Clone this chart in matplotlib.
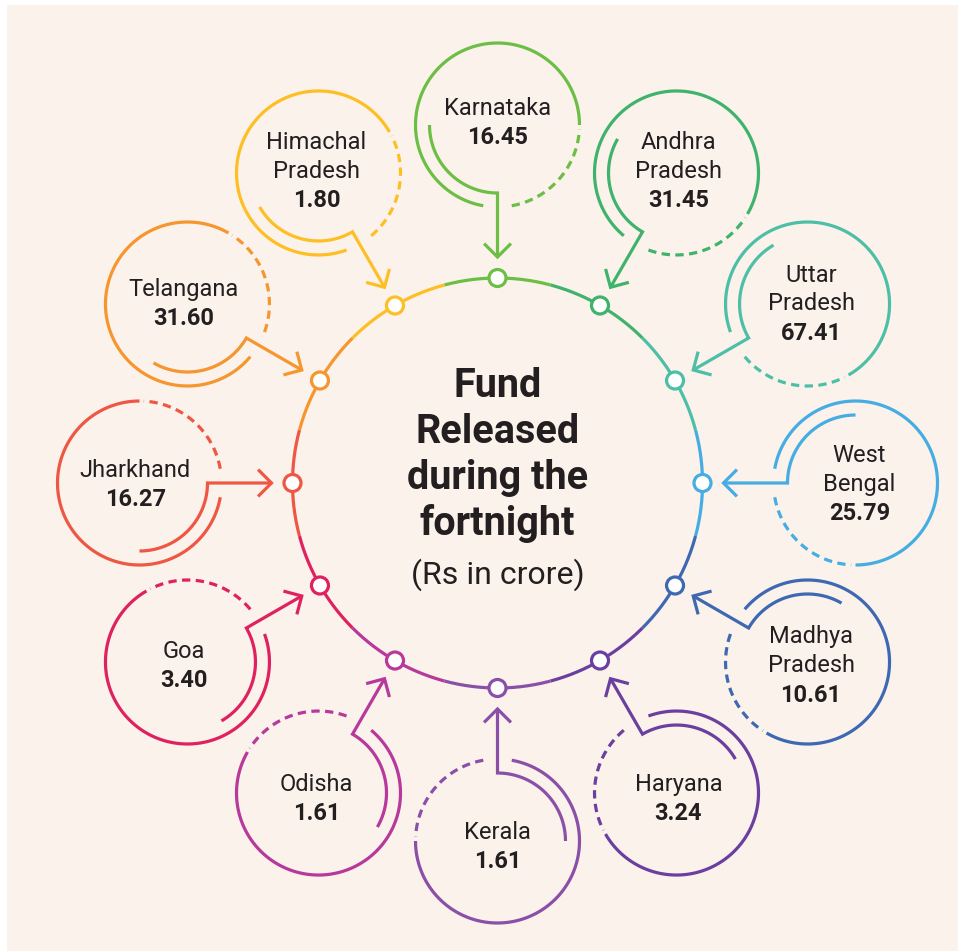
import numpy as np
import matplotlib.pyplot as plt
from matplotlib.patches import Circle, Rectangle

# data, clockwise from the top of the ring
states = ['Karnataka', 'Andhra\nPradesh', 'Uttar\nPradesh', 'West\nBengal',
          'Madhya\nPradesh', 'Haryana', 'Kerala', 'Odisha', 'Goa',
          'Jharkhand', 'Telangana', 'Himachal\nPradesh']
funds = [16.45, 31.45, 67.41, 25.79, 10.61, 3.24, 1.61, 1.61, 3.40,
         16.27, 31.60, 1.80]
colors = ['#6dbe45', '#3fb36b', '#4dbfa7', '#45ade2', '#3e68b2', '#6a3f9f',
          '#8a4fa7', '#b6399b', '#df2160', '#ee5744', '#f5962f', '#fdbf24']
title_lines = ['Fund', 'Released', 'during the', 'fortnight']
subtitle = '(Rs in crore)'

W, H = 958, 951
fig = plt.figure(figsize=(W / 100, H / 100), dpi=100, facecolor='white')
ax = fig.add_axes([0, 0, 1, 1])
ax.set_xlim(0, W)
ax.set_ylim(0, H)
ax.axis('off')
ax.add_patch(Rectangle((7, 0), W - 7, H - 5, fc='#fbf2eb', ec='none', zorder=0))

cx, cy = 497.5, H - 483
ring_r = 205
dist = 358
R, r = 82, 68
gap = 10
lw = 2.3
ink = '#231f20'
font = 'Roboto'


def arc(x0, y0, rad, t1, t2, n=200):
    t = np.radians(np.linspace(t1, t2, n))
    return x0 + rad * np.cos(t), y0 + rad * np.sin(t)


def pol(x0, y0, rad, a):
    a = np.radians(a)
    return x0 + rad * np.cos(a), y0 + rad * np.sin(a)


for i, (name, val, col) in enumerate(zip(states, funds, colors)):
    ang = 90 - 30 * i
    phi = ang + 180  # pointing from the bubble to the ring

    # ring piece + marker
    xs, ys = arc(cx, cy, ring_r, ang - 15, ang + 15)
    ax.plot(xs, ys, color=col, lw=lw, solid_capstyle='butt', zorder=2)
    mx, my = pol(cx, cy, ring_r, ang)
    ax.add_patch(Circle((mx, my), 8.5, fc='white', ec=col, lw=lw, zorder=4))

    # bubble
    bx, by = pol(cx, cy, dist, ang)
    xs, ys = arc(bx, by, R, phi + 90, phi + 360 - gap)
    ax.plot(xs, ys, color=col, lw=lw, solid_capstyle='butt', zorder=2)
    xs, ys = arc(bx, by, R, phi + gap, phi + 87)
    ax.plot(xs, ys, color=col, lw=lw, linestyle=(0, (2.6, 1.7)),
            dash_capstyle='butt', zorder=2)

    # inner arc running into the arrow
    tx, ty = pol(cx, cy, 226, ang)
    xs, ys = arc(bx, by, r, phi - 90, phi)
    ax.plot(np.append(xs, tx), np.append(ys, ty), color=col, lw=lw,
            solid_capstyle='butt', solid_joinstyle='miter', zorder=2)
    w1 = pol(tx, ty, 19, phi + 180 + 45)
    w2 = pol(tx, ty, 19, phi + 180 - 45)
    ax.plot([w1[0], tx, w2[0]], [w1[1], ty, w2[1]], color=col, lw=lw,
            solid_capstyle='butt', solid_joinstyle='miter', zorder=2)

    # labels
    lines = name.split('\n') + [f'{val:.2f}']
    ox, oy = pol(0, 0, 4, ang)
    n = len(lines)
    for k, line in enumerate(lines):
        yc = by + oy + (n - 1) / 2 * 29 - k * 29
        ax.text(bx + ox, yc - 8.5, line, ha='center', va='baseline',
                fontsize=17, family=font, color=ink,
                fontweight='bold' if k == n - 1 else 'normal', zorder=5)

for k, line in enumerate(title_lines):
    ax.text(cx, H - 397 - 46 * k, line, ha='center', va='baseline',
            fontsize=28.5, fontweight='bold', family=font, color=ink, zorder=5)
ax.text(cx, H - 584, subtitle, ha='center', va='baseline', fontsize=23,
        family=font, color=ink, zorder=5)

fig.savefig('out.png', dpi=100, facecolor='white')
